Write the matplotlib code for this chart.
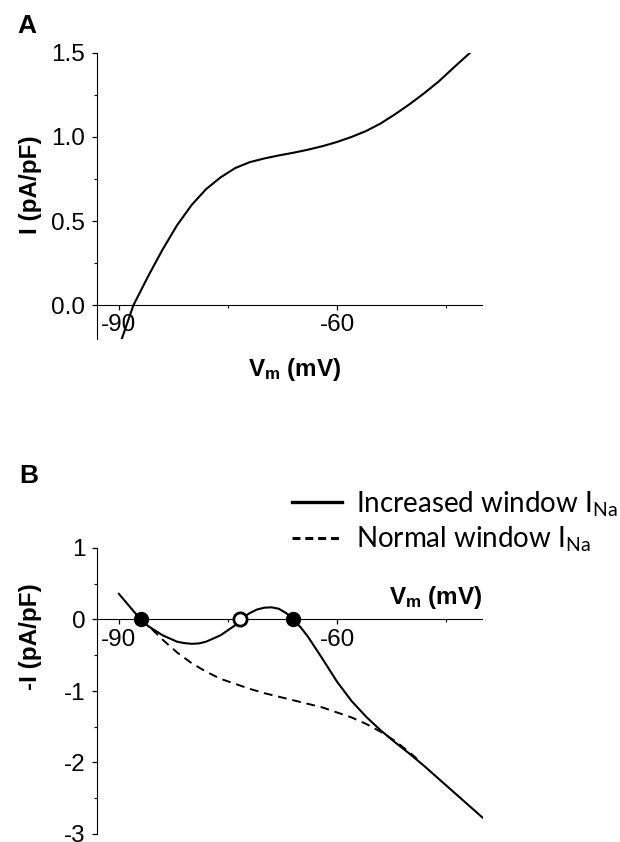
import numpy as np
import matplotlib
matplotlib.use('Agg')
import matplotlib.pyplot as plt
from matplotlib.lines import Line2D

plt.rcParams['font.family'] = ['Liberation Sans', 'DejaVu Sans']
plt.rcParams['mathtext.default'] = 'regular'
plt.rcParams['axes.unicode_minus'] = False

# Panel A: I-V curve
vm_a = [-89.6, -88, -86, -84, -82, -80, -78, -76, -74, -72, -70, -68, -66, -64,
        -62, -60, -58, -56, -54, -52, -50, -48, -46, -44, -41.7]
i_a = [-0.2, 0.0, 0.17, 0.33, 0.475, 0.595, 0.69, 0.76, 0.815, 0.85, 0.872, 0.89,
       0.906, 0.924, 0.945, 0.97, 1.0, 1.035, 1.08, 1.135, 1.195, 1.26, 1.33, 1.41, 1.5]

# Panel B: -I for increased and normal window INa
vm_inc = [-90, -88, -87, -86, -84, -82, -81, -80, -79, -78, -76, -74, -73.3, -72,
          -71, -70, -69, -68, -67, -66, -65, -64, -62, -60, -58, -56, -54, -52,
          -50, -48, -46, -44, -42, -40]
i_inc = [0.36, 0.12, 0.0, -0.09, -0.22, -0.31, -0.33, -0.34, -0.335, -0.31,
         -0.22, -0.08, 0.0, 0.09, 0.14, 0.165, 0.17, 0.15, 0.09, 0.0, -0.11,
         -0.24, -0.55, -0.87, -1.14, -1.36, -1.55, -1.72, -1.88, -2.05, -2.23,
         -2.41, -2.59, -2.77]
vm_norm = [-87, -86, -84, -82, -80, -78, -76, -74, -72, -70, -68, -66, -64, -62,
           -60, -58, -56, -54, -52, -50, -49]
i_norm = [0.0, -0.08, -0.28, -0.46, -0.61, -0.73, -0.83, -0.90, -0.97, -1.03,
          -1.08, -1.13, -1.18, -1.23, -1.30, -1.37, -1.46, -1.57, -1.70, -1.86, -1.95]

stable_v = [-87, -66]
unstable_v = [-73.3]

legend_labels = ['Increased window I$_{Na}$', 'Normal window I$_{Na}$']

W, H = 620, 842


def fpos(x, y):
    # pixel position (from top-left) -> figure fraction
    return x / W, 1 - y / H


def style_axis(ax, ylim, major, minor):
    ax.set_xlim(-93, -40)
    ax.set_ylim(*ylim)
    ax.spines['top'].set_visible(False)
    ax.spines['right'].set_visible(False)
    ax.spines['bottom'].set_position(('data', 0))
    ax.set_xticks([-90, -60])
    ax.set_xticks([-75, -45], minor=True)
    ax.set_yticks(major)
    ax.set_yticks(minor, minor=True)
    ax.tick_params(which='major', length=3.5, width=0.9, labelsize=17.5)
    ax.tick_params(axis='x', which='major', pad=3)
    ax.tick_params(axis='y', which='major', pad=5)
    ax.tick_params(which='minor', length=2, width=0.8)
    ax.patch.set_visible(False)


fig = plt.figure(figsize=(6.2, 8.42), dpi=100)

# ---- A ----
ax_a = fig.add_axes([97 / W, 1 - 339 / H, 385.5 / W, 286.3 / H])
ax_a.plot(vm_a, i_a, color='black', lw=1.5)
style_axis(ax_a, (-0.2, 1.5), [0.0, 0.5, 1.0, 1.5], [0.25, 0.75, 1.25])
ax_a.set_yticklabels(['0.0', '0.5', '1.0', '1.5'])
fig.text(*fpos(31, 185), 'I (pA/pF)', fontsize=17.5, fontweight='bold',
         rotation=90, ha='center', va='center')
fig.text(*fpos(295, 376), 'V$_m$ (mV)', fontsize=17.5, fontweight='bold',
         ha='center', va='baseline')
fig.text(*fpos(17, 33), 'A', fontsize=19, fontweight='bold')

# ---- B ----
ax_b = fig.add_axes([97 / W, 1 - 834 / H, 385.5 / W, 286 / H])
ax_b.plot(vm_inc, i_inc, color='black', lw=1.5)
ax_b.plot(vm_norm, i_norm, color='black', lw=1.4, ls=(0, (4.5, 3)))
ax_b.plot(stable_v, [0] * len(stable_v), 'o', color='black', ms=10, zorder=5)
ax_b.plot(unstable_v, [0] * len(unstable_v), 'o', mfc='white', mec='black',
          mew=2, ms=9.5, zorder=5)
style_axis(ax_b, (-3, 1), [-3, -2, -1, 0, 1], [-2.5, -1.5, -0.5, 0.5])
fig.text(*fpos(31, 637), '-I (pA/pF)', fontsize=17.5, fontweight='bold',
         rotation=90, ha='center', va='center')
ax_b.text(-40, 0.21, 'V$_m$ (mV)', fontsize=17.5, fontweight='bold',
          ha='right', va='baseline')
fig.text(*fpos(19, 483), 'B', fontsize=19, fontweight='bold')

handles = [Line2D([], [], color='black', lw=2.4),
           Line2D([], [], color='black', lw=2.2, ls=(0, (2.6, 1.6)))]
fig.legend(handles, legend_labels, loc='upper left',
           bbox_to_anchor=fpos(292, 489), frameon=False,
           prop={'family': 'Lato', 'size': 20}, handlelength=1.8,
           handletextpad=0.5, labelspacing=0.22, borderpad=0, borderaxespad=0)

fig.savefig('out.png', dpi=100)
